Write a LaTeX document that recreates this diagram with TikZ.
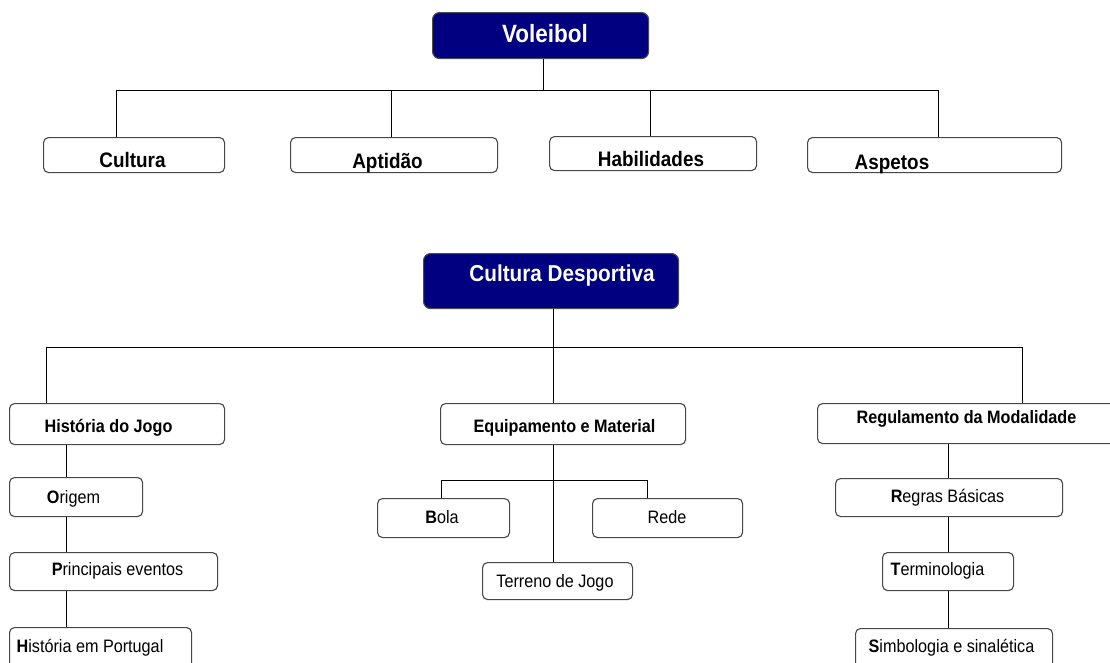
\documentclass[tikz,border=0pt]{standalone}
\usepackage{fontspec}
\setmainfont[FakeStretch=0.9]{Liberation Sans}
\definecolor{navyc}{RGB}{0,0,128}
\begin{document}
\begin{tikzpicture}[x=1pt,y=-1pt,
  box/.style={draw=black!72, line width=1.1pt, rounded corners=5pt, fill=white, inner sep=0pt, anchor=north west},
  navybox/.style={draw=black!70, line width=1.1pt, rounded corners=7pt, fill=navyc, inner sep=0pt, anchor=north west},
  conn/.style={draw=black, line width=1pt},
  lbl/.style={anchor=base, inner sep=0pt},
  ftop/.style={font=\fontsize{21}{21}\selectfont\bfseries},
  fmid/.style={font=\fontsize{18}{18}\selectfont\bfseries},
  flow/.style={font=\fontsize{18}{18}\selectfont}]
\useasboundingbox (0,0) rectangle (1110,662);
\clip (0,0) rectangle (1110,662);
% ---- top tree
\node[navybox, minimum width=216pt, minimum height=46pt] (vol) at (432,12) {};
\node[box, minimum width=181pt, minimum height=35pt] (cul) at (43,137) {};
\node[box, minimum width=207pt, minimum height=35pt] (apt) at (290,137) {};
\node[box, minimum width=207pt, minimum height=34pt] (hab) at (549,136) {};
\node[box, minimum width=254pt, minimum height=35pt] (asp) at (807,137) {};
\node[lbl, font=\fontsize{25}{25}\selectfont\bfseries, text=white] (volt) at (545,42) {Voleibol};
\node[lbl, ftop] (cult) at (132.5,167) {Cultura};
\node[lbl, ftop] (aptt) at (387.5,168) {Aptidão};
\node[lbl, ftop] (habt) at (651,166) {Habilidades};
\node[lbl, ftop] (aspt) at (892,169) {Aspetos};
\coordinate (h1L) at (116,90);
\coordinate (h1R) at (938,90);
\coordinate (h1a) at (391,90);
\coordinate (h1b) at (650,90);
\coordinate (v1) at (543,90);
\draw[conn] (v1 |- vol.south) -- (v1);
\draw[conn] (h1L) -- (h1R);
\draw[conn] (h1L) -- (h1L |- cul.north);
\draw[conn] (h1a) -- (h1a |- apt.north);
\draw[conn] (h1b) -- (h1b |- hab.north);
\draw[conn] (h1R) -- (h1R |- asp.north);
% ---- bottom tree
\node[navybox, minimum width=255pt, minimum height=55pt] (cd) at (423,253) {};
\node[lbl, font=\fontsize{23}{23}\selectfont\bfseries, text=white] (cdt) at (562,281) {Cultura Desportiva};
\node[box, minimum width=215pt, minimum height=41pt] (hj) at (9,403) {};
\node[box, minimum width=245pt, minimum height=41pt] (eq) at (440,403) {};
\node[box, minimum width=300pt, minimum height=40pt] (reg) at (817,403) {};
\node[lbl, fmid] (hjt) at (108.5,432) {História do Jogo};
\node[lbl, fmid] (eqt) at (564.5,432) {Equipamento e Material};
\node[lbl, fmid] (regt) at (966.5,423) {Regulamento da Modalidade};
\coordinate (h2L) at (46,347);
\coordinate (h2M) at (553,347);
\coordinate (h2R) at (1022,347);
\draw[conn] (h2M |- cd.south) -- (h2M);
\draw[conn] (h2L) -- (h2R);
\draw[conn] (h2L) -- (h2L |- hj.north);
\draw[conn] (h2M) -- (h2M |- eq.north);
\draw[conn] (h2R) -- (h2R |- reg.north);
% left column
\node[box, minimum width=133pt, minimum height=39pt] (ori) at (9,477) {};
\node[box, minimum width=208pt, minimum height=38pt] (pri) at (9,552) {};
\node[box, minimum width=182pt, minimum height=45pt] (hip) at (9,627) {};
\node[lbl, flow] (orit) at (73.5,503) {{\bfseries O}rigem};
\node[lbl, flow] (prit) at (117.5,575) {{\bfseries P}rincipais eventos};
\node[lbl, flow] (hipt) at (90,652) {{\bfseries H}istória em Portugal};
\coordinate (lc) at (66,0);
\draw[conn] (lc |- hj.south) -- (lc |- ori.north);
\draw[conn] (lc |- ori.south) -- (lc |- pri.north);
\draw[conn] (lc |- pri.south) -- (lc |- hip.north);
% middle column
\node[box, minimum width=132pt, minimum height=39pt] (bola) at (377,498) {};
\node[box, minimum width=150pt, minimum height=39pt] (rede) at (592,498) {};
\node[box, minimum width=150pt, minimum height=37pt] (ter) at (482,562) {};
\node[lbl, flow] (bolat) at (442,523) {{\bfseries B}ola};
\node[lbl, flow] (redet) at (667,523) {Rede};
\node[lbl, flow] (tert) at (555,587) {Terreno de Jogo};
\coordinate (mc) at (553,0);
\coordinate (bl) at (441,480);
\coordinate (rd) at (647,480);
\draw[conn] (mc |- eq.south) -- (mc |- ter.north);
\draw[conn] (bl |- bola.north) -- (bl) -- (rd) -- (rd |- rede.north);
% right column
\node[box, minimum width=227pt, minimum height=38pt] (rgb) at (835,478) {};
\node[box, minimum width=131pt, minimum height=38pt] (term) at (882,552) {};
\node[box, minimum width=197pt, minimum height=45pt] (sim) at (855,628) {};
\node[lbl, flow] (rgbt) at (947.5,502) {{\bfseries R}egras Básicas};
\node[lbl, flow] (termt) at (937.5,575) {{\bfseries T}erminologia};
\node[lbl, flow] (simt) at (951.5,652) {{\bfseries S}imbologia e sinalética};
\coordinate (rc) at (948,0);
\draw[conn] (rc |- reg.south) -- (rc |- rgb.north);
\draw[conn] (rc |- rgb.south) -- (rc |- term.north);
\draw[conn] (rc |- term.south) -- (rc |- sim.north);
\end{tikzpicture}
\end{document}
